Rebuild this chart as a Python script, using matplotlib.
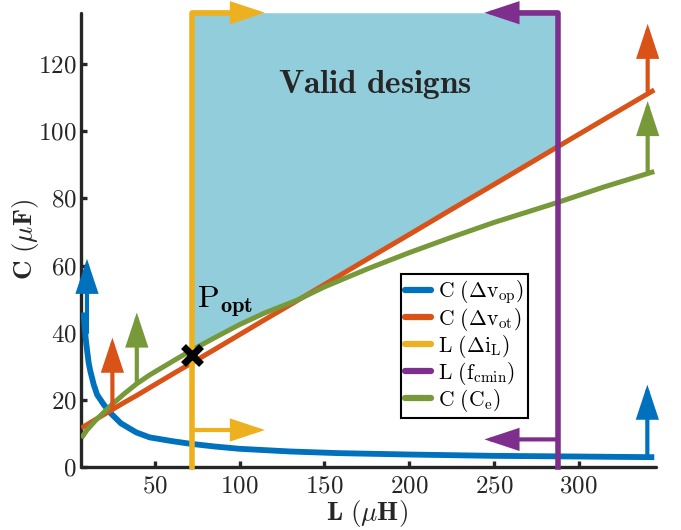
import numpy as np
import matplotlib
matplotlib.use("Agg")
import matplotlib.pyplot as plt

plt.rcParams['mathtext.fontset'] = 'cm'
plt.rcParams['axes.formatter.use_mathtext'] = True
plt.rcParams['font.family'] = ['cmr10', 'DejaVu Serif']

# ---- data ----
L_vop = [8, 8.6, 9.3, 10, 11, 12, 14, 16, 20, 24, 30, 39, 47, 60, 71, 85, 100, 130, 159, 200, 250, 300, 344.7]
C_vop = [46, 42, 38, 35, 31, 28.5, 24.5, 21.5, 18.5, 16, 13, 10.3, 8.8, 7.7, 6.9, 6.1, 5.4, 4.6, 4.1, 3.7, 3.3, 3.1, 2.9]

L_grid = [6.7, 10, 15, 20, 25, 32, 39.4, 47, 55, 63, 72.2, 85, 100, 115, 133.6, 150, 175, 200, 225, 250, 287.8, 315, 344.7]
C_vot = [11.6, 12.6, 14.1, 15.6, 17.1, 19.2, 21.3, 23.6, 26.0, 28.4, 31.1, 34.9, 39.4, 43.9, 49.4, 54.3, 61.8, 69.2, 76.7, 84.1, 95.4, 103.5, 112.3]
C_ce = [8.6, 11.0, 13.8, 16.3, 18.7, 21.8, 24.8, 27.4, 29.8, 32.2, 34.9, 38.4, 42.4, 45.9, 49.6, 53.6, 58.9, 63.8, 68.4, 72.8, 78.8, 83.4, 88.0]

L_diL = 72.2
L_fcmin = 287.8
C_top = 135.3
P_opt = (72.2, 33.4)

labels = [r'$\mathrm{C}\ (\Delta\mathrm{v}_{\mathrm{op}})$',
          r'$\mathrm{C}\ (\Delta\mathrm{v}_{\mathrm{ot}})$',
          r'$\mathrm{L}\ (\Delta\mathrm{i}_{\mathrm{L}})$',
          r'$\mathrm{L}\ (\mathrm{f}_{\mathrm{cmin}})$',
          r'$\mathrm{C}\ (\mathrm{C}_{\mathrm{e}})$']

# arrows: (x0, y0, x1, y1, colour index)
arrows = [
    (10, 40, 10, 62, 0), (340.6, 3.0, 340.6, 24.5, 0),
    (25, 17, 25, 38.5, 1), (340.8, 112, 340.8, 132, 1),
    (39.4, 25, 39.4, 46, 4), (340.8, 88, 340.8, 109, 4),
    (72.2, 135.3, 115, 135.3, 2), (72.2, 11, 115, 11, 2),
    (287.8, 135.3, 244.5, 135.3, 3), (287.8, 8.2, 244.5, 8.2, 3),
]

colors = ['#0072BD', '#D95319', '#EDB120', '#7E2F8E', '#77993A']
fill_color = '#92CDDC'
dark = '#262626'

fig = plt.figure(figsize=(6.81, 5.30), dpi=100)
ax = fig.add_axes([0.119, 0.119, 0.845, 0.857])

# valid design region
Lg = np.array(L_grid)
lower = np.maximum(np.array(C_vot), np.array(C_ce))
m = (Lg >= L_diL) & (Lg <= L_fcmin)
ax.fill_between(Lg[m], lower[m], C_top, color=fill_color, lw=0, zorder=1)

lw = 3.6
h0, = ax.plot(L_vop, C_vop, color=colors[0], lw=4.2, solid_capstyle='butt', zorder=3)
h1, = ax.plot(L_grid, C_vot, color=colors[1], lw=lw, solid_capstyle='butt', zorder=3)
h4, = ax.plot(L_grid, C_ce, color=colors[4], lw=lw, solid_capstyle='butt', zorder=3.5)
h2, = ax.plot([L_diL, L_diL, 0.5 * (L_diL + 115)], [0, C_top, C_top], color=colors[2], lw=4,
              solid_joinstyle='round', zorder=4, clip_on=False)
h3, = ax.plot([L_fcmin, L_fcmin, 0.5 * (L_fcmin + 244.5)], [0, C_top, C_top], color=colors[3], lw=4,
              solid_joinstyle='round', zorder=4, clip_on=False)

for x0, y0, x1, y1, ci in arrows:
    ax.annotate('', xy=(x1, y1), xytext=(x0, y0),
                arrowprops=dict(arrowstyle='-|>,head_length=19,head_width=6.3',
                                mutation_scale=1, lw=3, color=colors[ci],
                                shrinkA=0, shrinkB=0, joinstyle='miter'),
                zorder=5, annotation_clip=False)

ax.plot([P_opt[0]], [P_opt[1]], marker='x', color='black', ms=13, mew=5, zorder=6)
ax.text(74.8, 47.4, r'$\mathrm{P}_{\mathbf{opt}}$', fontsize=23, color='black', zorder=6)
ax.text(179.8, 111.5, r'$\mathbf{Valid\ designs}$', fontsize=24, color=dark,
        ha='center', va='baseline', zorder=6)

ax.set_xlim(6.5, 346)
ax.set_ylim(0, C_top)
ax.set_xticks([50, 100, 150, 200, 250, 300])
ax.set_yticks([0, 20, 40, 60, 80, 100, 120])

for s in ['top', 'right']:
    ax.spines[s].set_visible(False)
for s in ['left', 'bottom']:
    ax.spines[s].set_linewidth(2.4)
    ax.spines[s].set_color(dark)
    ax.spines[s].set_capstyle('round')
ax.tick_params(direction='in', length=4, width=2.4, color=dark, labelcolor=dark,
               labelsize=18)
ax.tick_params(axis='y', pad=3)
ax.tick_params(axis='x', pad=6)

ax.set_xlabel(r'$\mathbf{L\ (}\mu\mathbf{H)}$', fontsize=19.5, color=dark)
ax.set_ylabel(r'$\mathbf{C\ (}\mu\mathbf{F)}$', fontsize=19.5, color=dark)
ax.xaxis.set_label_coords(0.497, -0.068)
ax.yaxis.set_label_coords(-0.07, 0.5)

leg = ax.legend([h0, h1, h2, h3, h4], labels, loc='lower left', bbox_to_anchor=(0.556, 0.107),
                fontsize=15.5, frameon=True, fancybox=False, framealpha=1, edgecolor='black',
                handlelength=1.2, handletextpad=0.3, labelspacing=0.0, borderpad=0.2,
                borderaxespad=0)
leg.get_frame().set_linewidth(1.5)
for lh in leg.get_lines():
    lh.set_linewidth(4.5)
    lh.set_solid_capstyle('round')
leg.set_zorder(7)

fig.savefig('out.png', dpi=100)
